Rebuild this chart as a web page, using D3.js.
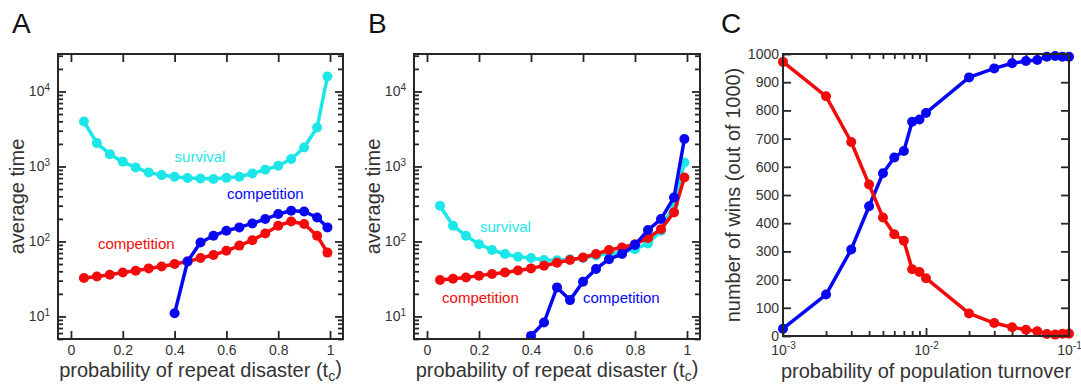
<!DOCTYPE html>
<html>
  <head>
    <script src="https://d3js.org/d3.v7.min.js"></script>
    <style>
      body { margin: 0; background: #fff; }
      text { font-family: "Liberation Sans", Arial, Helvetica, sans-serif; fill: #333; }
    </style>
  </head>
  <body>
    <svg id="chart" width="1081" height="386"></svg>
    <script>
      // ---- data ----
      const tc = [0.05, 0.1, 0.15, 0.2, 0.25, 0.3, 0.35, 0.4, 0.45, 0.5, 0.55, 0.6, 0.65, 0.7, 0.75, 0.8, 0.85, 0.9, 0.95, 0.99];
      const tcBlue = [0.4, 0.45, 0.5, 0.55, 0.6, 0.65, 0.7, 0.75, 0.8, 0.85, 0.9, 0.95, 0.99];

      // panel A
      const aSurvival = [3980, 2050, 1460, 1155, 970, 830, 767, 729, 700, 692, 680, 705, 730, 807, 904, 1020, 1260, 1790, 3310, 15850];
      const aCompRed = [32.5, 34, 36, 38.6, 40.7, 43.7, 46.4, 49.9, 54, 60, 66, 75, 88, 104, 128, 162, 185, 171, 119, 71];
      const aCompBlue = [11, 54, 97, 119, 139, 154, 174, 199, 232, 257, 251, 209, 154];

      // panel B
      const bSurvival = [299, 162, 119, 92, 77, 68, 62.5, 60, 56.5, 56, 58, 60, 65, 69, 71, 79, 94, 139, 316, 1130];
      const bCompRed = [30.6, 31.8, 33, 35, 36.8, 38.6, 41, 43.7, 47.4, 52, 56.5, 61, 68, 77, 83, 92, 111, 146, 244, 713];
      const bCompBlue = [5.5, 8.3, 24.4, 16.5, 29, 43, 58, 68, 90, 142, 199, 386, 2320];

      // panel C
      const turnover = [0.001, 0.002, 0.003, 0.004, 0.005, 0.006, 0.007, 0.008, 0.009, 0.01, 0.02, 0.03, 0.04, 0.05, 0.06, 0.07, 0.08, 0.09, 0.1];
      const winsRed = [972, 850, 688, 537, 420, 361, 338, 237, 227, 205, 80, 46, 31, 22, 17, 7, 5, 8, 8];
      const winsBlue = [26, 147, 307, 460, 577, 633, 656, 760, 768, 791, 917, 949, 967, 975, 979, 990, 993, 990, 990];

      const xTicksAB = [0, 0.2, 0.4, 0.6, 0.8, 1];
      const yDecades = [10, 100, 1000, 10000];
      const cDecades = [0.001, 0.01, 0.1];
      const cYTicks = [0, 100, 200, 300, 400, 500, 600, 700, 800, 900, 1000];

      // series labels: [text, x, y, colour]
      const aLabels = [["survival", 0.40, 1150, "cyan"], ["competition", 0.602, 369, "blue"], ["competition", 0.104, 79, "red"]];
      const bLabels = [["survival", 0.204, 134, "cyan"], ["competition", 0.058, 15.1, "red"], ["competition", 0.6, 15.1, "blue"]];

      const colors = { cyan: "#1ce6e8", blue: "#0707f2", red: "#f20b0b" };
      const frameColor = "#262626";

      const svg = d3.select("#chart");

      function minorLog(domain) {
        const out = [];
        for (let e = -4; e <= 5; e++) {
          for (let k = 2; k <= 9; k++) {
            const v = k * Math.pow(10, e);
            if (v >= domain[0] && v <= domain[1]) out.push(+v.toPrecision(3));
          }
        }
        return out;
      }

      // replace plain labels with "10" + superscript exponent
      function powLabels(sel) {
        sel.selectAll(".tick text").each(function(d) {
          const t = d3.select(this);
          const ex = Math.round(Math.log10(d));
          t.text("10");
          t.append("tspan").attr("dy", "-0.55em").style("font-size", "10px").text(ex);
        });
      }

      function styleAxis(g) {
        g.select(".domain").remove();
        g.selectAll(".tick line").attr("stroke", frameColor).attr("stroke-width", 1.8);
        g.selectAll(".tick text").style("font-size", "14px").attr("fill", "#333");
      }

      function drawSeries(g, x, y, xs, ys, col) {
        const pts = xs.map((v, i) => [v, ys[i]]);
        const line = d3.line().x(d => x(d[0])).y(d => y(d[1]));
        g.append("path").datum(pts)
          .attr("fill", "none").attr("stroke", col).attr("stroke-width", 3.5)
          .attr("stroke-linejoin", "round").attr("d", line);
        g.selectAll(null).data(pts).enter().append("circle")
          .attr("cx", d => x(d[0])).attr("cy", d => y(d[1]))
          .attr("r", 5).attr("fill", col);
      }

      function drawTimePanel(box, letter, series, labels) {
        const x = d3.scaleLinear().domain([-0.05, 1.05]).range([box.left, box.right]);
        const y = d3.scaleLog().domain([5, 31623]).range([box.bottom, box.top]);
        const g = svg.append("g");

        g.append("defs").append("clipPath").attr("id", "clip" + letter)
          .append("rect").attr("x", box.left).attr("y", box.top)
          .attr("width", box.right - box.left).attr("height", box.bottom - box.top);

        // ticks (inward, mirrored)
        g.append("g").attr("transform", `translate(0,${box.bottom})`)
          .call(d3.axisBottom(x).tickValues(xTicksAB).tickSizeInner(-8).tickSizeOuter(0).tickPadding(6).tickFormat(d3.format("")))
          .call(styleAxis);
        g.append("g").attr("transform", `translate(0,${box.top})`)
          .call(d3.axisTop(x).tickValues(xTicksAB).tickSizeInner(-8).tickSizeOuter(0).tickFormat(""))
          .call(styleAxis);
        const yMin = minorLog(y.domain());
        g.append("g").attr("transform", `translate(${box.left},0)`)
          .call(d3.axisLeft(y).tickValues(yMin).tickSizeInner(-5).tickSizeOuter(0).tickFormat(""))
          .call(styleAxis);
        g.append("g").attr("transform", `translate(${box.right},0)`)
          .call(d3.axisRight(y).tickValues(yMin).tickSizeInner(-5).tickSizeOuter(0).tickFormat(""))
          .call(styleAxis);
        g.append("g").attr("transform", `translate(${box.left},0)`)
          .call(d3.axisLeft(y).tickValues(yDecades).tickSizeInner(-8).tickSizeOuter(0).tickPadding(8).tickFormat(d => d))
          .call(styleAxis).call(powLabels);
        g.append("g").attr("transform", `translate(${box.right},0)`)
          .call(d3.axisRight(y).tickValues(yDecades).tickSizeInner(-8).tickSizeOuter(0).tickFormat(""))
          .call(styleAxis);

        const plot = g.append("g").attr("clip-path", `url(#clip${letter})`);
        series.forEach(s => drawSeries(plot, x, y, s[0], s[1], colors[s[2]]));

        labels.forEach(l => {
          g.append("text").attr("x", x(l[1])).attr("y", y(l[2]))
            .style("font-size", "15px").style("fill", colors[l[3]]).text(l[0]);
        });

        g.append("rect").attr("x", box.left).attr("y", box.top)
          .attr("width", box.right - box.left).attr("height", box.bottom - box.top)
          .attr("fill", "none").attr("stroke", frameColor).attr("stroke-width", 2);

        const xl = g.append("text").attr("x", (box.left + box.right) / 2).attr("y", 377)
          .attr("text-anchor", "middle").style("font-size", "20px")
          .text("probability of repeat disaster (t");
        xl.append("tspan").attr("dy", "0.3em").style("font-size", "14px").text("c");
        xl.append("tspan").attr("dy", "-0.3em").text(")");

        g.append("text").attr("transform", `translate(${box.left - 34},${(box.top + box.bottom) / 2}) rotate(-90)`)
          .attr("text-anchor", "middle").style("font-size", "20px").text("average time");

        g.append("text").attr("x", box.left - 46).attr("y", 33)
          .style("font-size", "28px").style("fill", "#111").text(letter);
      }

      drawTimePanel({ left: 58, right: 343, top: 54, bottom: 339 }, "A",
        [[tc, aSurvival, "cyan"], [tc, aCompRed, "red"], [tcBlue, aCompBlue, "blue"]], aLabels);
      drawTimePanel({ left: 414, right: 700, top: 54, bottom: 339 }, "B",
        [[tc, bSurvival, "cyan"], [tc, bCompRed, "red"], [tcBlue, bCompBlue, "blue"]], bLabels);

      // ---- panel C ----
      (function() {
        const box = { left: 783, right: 1069, top: 54, bottom: 336 };
        const x = d3.scaleLog().domain([0.001, 0.1]).range([box.left, box.right]);
        const y = d3.scaleLinear().domain([0, 1000]).range([box.bottom, box.top]);
        const g = svg.append("g");
        const xMin = minorLog(x.domain());

        g.append("g").attr("transform", `translate(0,${box.bottom})`)
          .call(d3.axisBottom(x).tickValues(xMin).tickSizeInner(-5).tickSizeOuter(0).tickFormat(""))
          .call(styleAxis);
        g.append("g").attr("transform", `translate(0,${box.top})`)
          .call(d3.axisTop(x).tickValues(xMin).tickSizeInner(-5).tickSizeOuter(0).tickFormat(""))
          .call(styleAxis);
        g.append("g").attr("transform", `translate(0,${box.bottom})`)
          .call(d3.axisBottom(x).tickValues(cDecades).tickSizeInner(-8).tickSizeOuter(0).tickPadding(9).tickFormat(d => d))
          .call(styleAxis).call(powLabels);
        g.append("g").attr("transform", `translate(0,${box.top})`)
          .call(d3.axisTop(x).tickValues(cDecades).tickSizeInner(-8).tickSizeOuter(0).tickFormat(""))
          .call(styleAxis);
        g.append("g").attr("transform", `translate(${box.left},0)`)
          .call(d3.axisLeft(y).tickValues(cYTicks).tickSizeInner(-8).tickSizeOuter(0).tickPadding(4).tickFormat(d3.format("d")))
          .call(styleAxis);
        g.append("g").attr("transform", `translate(${box.right},0)`)
          .call(d3.axisRight(y).tickValues(cYTicks).tickSizeInner(-8).tickSizeOuter(0).tickFormat(""))
          .call(styleAxis);

        drawSeries(g, x, y, turnover, winsBlue, colors.blue);
        drawSeries(g, x, y, turnover, winsRed, colors.red);

        g.append("rect").attr("x", box.left).attr("y", box.top)
          .attr("width", box.right - box.left).attr("height", box.bottom - box.top)
          .attr("fill", "none").attr("stroke", frameColor).attr("stroke-width", 2);

        g.append("text").attr("x", (box.left + box.right) / 2).attr("y", 378)
          .attr("text-anchor", "middle").style("font-size", "20px")
          .text("probability of population turnover");
        g.append("text").attr("transform", `translate(${box.left - 43},${(box.top + box.bottom) / 2}) rotate(-90)`)
          .attr("text-anchor", "middle").style("font-size", "20px").text("number of wins (out of 1000)");
        g.append("text").attr("x", box.left - 62).attr("y", 33)
          .style("font-size", "28px").style("fill", "#111").text("C");
      })();
    </script>
  </body>
</html>
